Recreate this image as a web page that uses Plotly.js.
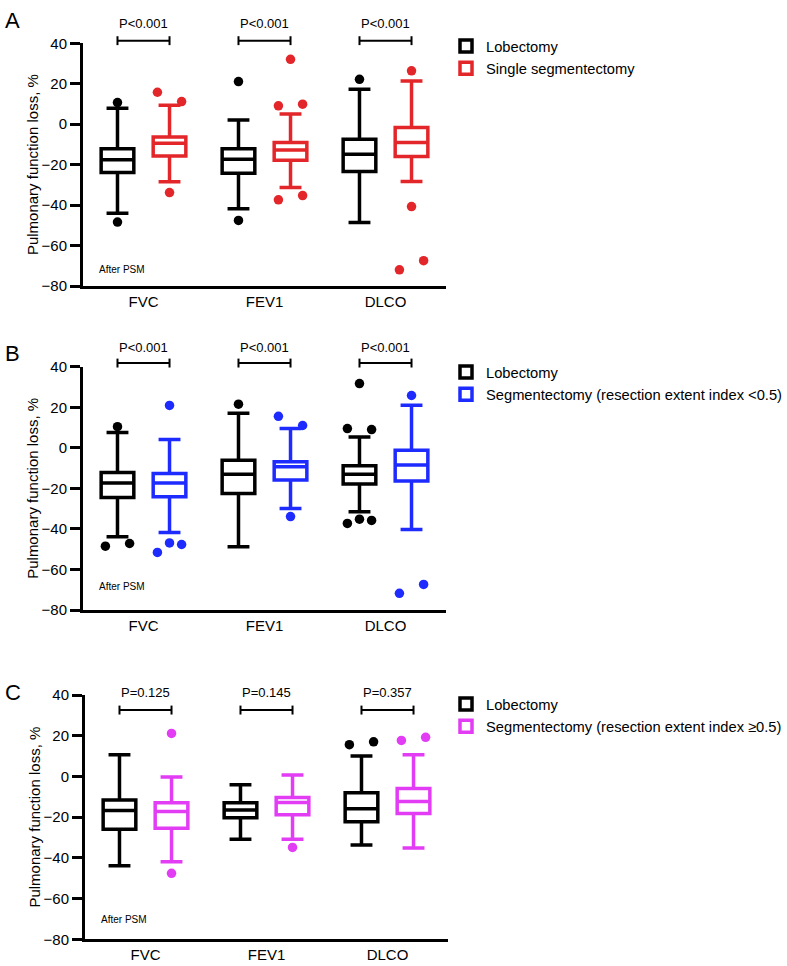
<!DOCTYPE html>
<html lang="en">
<head>
    <meta charset="UTF-8">
    <title>Pulmonary function loss after PSM</title>
    <script src="https://cdn.plot.ly/plotly-3.0.1.min.js"></script>
    <style>
        body, html {
            margin: 0;
            padding: 0;
            background: #fff;
        }
        #chart {
            width: 787px;
            height: 966px;
        }
    </style>
</head>
<body>
    <div id="chart"></div>
    <script>
        // Data
        const categories = ['FVC', 'FEV1', 'DLCO'];
        const yTicks = [-80, -60, -40, -20, 0, 20, 40];

        // Panel A: lobectomy vs single segmentectomy
        const aLobQ1 = [-23.9, -24.2, -23.4];
        const aLobMedian = [-17.6, -17.3, -14.8];
        const aLobQ3 = [-12.2, -12.2, -7.4];
        const aLobLow = [-44.0, -41.8, -48.6];
        const aLobHigh = [7.9, 2.1, 17.3];
        const aLobOutliers = [[10.7, -48.4], [21.1, -47.6], [22.2]];
        const aSegQ1 = [-15.7, -17.8, -16.0];
        const aSegMedian = [-9.4, -12.7, -9.1];
        const aSegQ3 = [-6.3, -9.1, -1.6];
        const aSegLow = [-28.5, -31.3, -28.3];
        const aSegHigh = [9.4, 5.1, 21.4];
        const aSegOutliers = [[15.8, 11.2, -33.8], [32.1, 9.1, 9.9, -37.4, -35.3], [26.4, -40.7, -72.0, -67.5]];
        const aPvalues = ['P<0.001', 'P<0.001', 'P<0.001'];

        // Panel B: lobectomy vs segmentectomy (index <0.5)
        const bLobQ1 = [-24.5, -22.5, -17.8];
        const bLobMedian = [-17.3, -13.0, -13.0];
        const bLobQ3 = [-12.2, -6.2, -8.9];
        const bLobLow = [-43.9, -48.8, -31.6];
        const bLobHigh = [7.6, 17.1, 5.3];
        const bLobOutliers = [[10.4, -48.5, -47.2], [21.5], [31.7, 9.5, 9.0, -37.3, -35.2, -35.8]];
        const bSegQ1 = [-24.2, -15.9, -16.4];
        const bSegMedian = [-17.3, -9.4, -8.5];
        const bSegQ3 = [-12.7, -6.9, -1.2];
        const bSegLow = [-41.8, -29.9, -40.3];
        const bSegHigh = [4.1, 9.5, 21.0];
        const bSegOutliers = [[20.9, -51.6, -46.9, -47.7], [15.5, 11.0, -33.9], [25.8, -71.8, -67.4]];
        const bPvalues = ['P<0.001', 'P<0.001', 'P<0.001'];

        // Panel C: lobectomy vs segmentectomy (index >=0.5)
        const cLobQ1 = [-25.9, -20.3, -22.3];
        const cLobMedian = [-16.7, -16.5, -15.9];
        const cLobQ3 = [-11.6, -12.9, -8.0];
        const cLobLow = [-43.9, -30.9, -33.7];
        const cLobHigh = [10.6, -4.1, 10.0];
        const cLobOutliers = [[], [], [15.6, 17.0]];
        const cSegQ1 = [-25.4, -18.8, -18.2];
        const cSegMedian = [-17.2, -12.8, -12.3];
        const cSegQ3 = [-12.9, -10.3, -5.9];
        const cSegLow = [-41.9, -30.9, -35.2];
        const cSegHigh = [-0.3, 0.7, 10.6];
        const cSegOutliers = [[21.1, -47.6], [-34.9], [17.7, 19.2]];
        const cPvalues = ['P=0.125', 'P=0.145', 'P=0.357'];

        const FONT = 'Liberation Sans, Arial, Helvetica, sans-serif';
        const Y_RANGE = [-80, 40];
        const BOX_OFFSET = 0.215;   // half distance between paired boxes (x units)
        const JITTER = 0.2;         // spread of clustered outliers (x units)

        const panels = [
            {
                letter: 'A', segName: 'Single segmentectomy', color: '#E3262A',
                lob: [aLobQ1, aLobMedian, aLobQ3, aLobLow, aLobHigh, aLobOutliers],
                seg: [aSegQ1, aSegMedian, aSegQ3, aSegLow, aSegHigh, aSegOutliers],
                pvals: aPvalues, bracketY: 41.3, pY: 50, noteY: -71.6,
                xDomain: [83 / 787, 446 / 787], yDomain: [1 - 286 / 966, 1 - 43.3 / 966],
                legendTop: 1 - 30 / 966, letterY: 1 - 21 / 966
            },
            {
                letter: 'B', segName: 'Segmentectomy (resection extent index <0.5)', color: '#1E2BFF',
                lob: [bLobQ1, bLobMedian, bLobQ3, bLobLow, bLobHigh, bLobOutliers],
                seg: [bSegQ1, bSegMedian, bSegQ3, bSegLow, bSegHigh, bSegOutliers],
                pvals: bPvalues, bracketY: 41.8, pY: 49.5, noteY: -68.5,
                xDomain: [83 / 787, 446 / 787], yDomain: [1 - 610 / 966, 1 - 366.7 / 966],
                legendTop: 1 - 356 / 966, letterY: 1 - 353 / 966
            },
            {
                letter: 'C', segName: 'Segmentectomy (resection extent index \u22650.5)', color: '#E23DF5',
                lob: [cLobQ1, cLobMedian, cLobQ3, cLobLow, cLobHigh, cLobOutliers],
                seg: [cSegQ1, cSegMedian, cSegQ3, cSegLow, cSegHigh, cSegOutliers],
                pvals: cPvalues, bracketY: 32.6, pY: 41, noteY: -70.5,
                xDomain: [85 / 787, 448 / 787], yDomain: [1 - 939.3 / 966, 1 - 695 / 966],
                legendTop: 1 - 688 / 966, letterY: 1 - 692 / 966
            }
        ];

        // spread outliers that sit close together, like the prism scatter
        function jitterOutliers(values) {
            const offsets = new Array(values.length).fill(0);
            let i = 0;
            while (i < values.length) {
                let j = i + 1;
                while (j < values.length && Math.abs(values[j] - values[i]) < 6) j++;
                const n = j - i;
                for (let k = 0; k < n; k++) {
                    offsets[i + k] = n > 1 ? -JITTER / 2 + k * JITTER / (n - 1) : 0;
                }
                i = j;
            }
            return offsets;
        }

        // value on the y axis -> fraction of the axis domain (lets marks sit above the range)
        const toDomain = v => (v - Y_RANGE[0]) / (Y_RANGE[1] - Y_RANGE[0]);

        const traces = [];
        const shapes = [];
        const annotations = [];
        const layout = {
            width: 787,
            height: 966,
            margin: { t: 0, r: 0, b: 0, l: 0, autoexpand: false },
            paper_bgcolor: '#fff',
            plot_bgcolor: '#fff',
            font: { family: FONT, color: '#000', size: 15 },
            hovermode: false,
            showlegend: true
        };

        panels.forEach((p, pi) => {
            const n = pi === 0 ? '' : String(pi + 1);
            const xa = 'x' + n, ya = 'y' + n;
            const legendId = 'legend' + n;

            [['Lobectomy', '#000', p.lob, -BOX_OFFSET], [p.segName, p.color, p.seg, BOX_OFFSET]].forEach(([name, color, s, off]) => {
                const xs = categories.map((_, g) => g + off);
                traces.push({
                    type: 'box',
                    name: name,
                    x: xs,
                    q1: s[0], median: s[1], q3: s[2],
                    lowerfence: s[3], upperfence: s[4],
                    boxpoints: false,
                    width: 0.27,
                    whiskerwidth: 0.67,
                    fillcolor: '#fff',
                    line: { color: color, width: 3.5 },
                    xaxis: xa, yaxis: ya,
                    legend: legendId,
                    showlegend: true
                });
                const ox = [], oy = [];
                s[5].forEach((vals, g) => {
                    const jit = jitterOutliers(vals);
                    vals.forEach((v, k) => { ox.push(g + off + jit[k]); oy.push(v); });
                });
                traces.push({
                    type: 'scatter',
                    mode: 'markers',
                    x: ox, y: oy,
                    marker: { color: color, size: 9.5 },
                    cliponaxis: false,
                    xaxis: xa, yaxis: ya,
                    showlegend: false
                });
            });

            layout['xaxis' + n] = {
                domain: p.xDomain,
                anchor: ya,
                range: [-0.5, 2.5],
                tickvals: [0, 1, 2],
                ticktext: categories,
                ticks: '',
                ticklabelstandoff: 0,
                showline: true, linewidth: 3, linecolor: '#000',
                showgrid: false, zeroline: false,
                tickfont: { size: 15 },
                fixedrange: true
            };
            layout['yaxis' + n] = {
                domain: p.yDomain,
                anchor: xa,
                range: Y_RANGE,
                tickvals: yTicks,
                ticks: 'outside', ticklen: 10, tickwidth: 3, tickcolor: '#000',
                showline: true, linewidth: 3, linecolor: '#000',
                showgrid: false, zeroline: false,
                tickfont: { size: 15 },
                title: { text: 'Pulmonary function loss, %', font: { size: 15 }, standoff: 0 },
                fixedrange: true
            };
            layout[legendId] = {
                x: 446 / 787, xanchor: 'left',
                y: p.legendTop, yanchor: 'top',
                font: { size: 14.7 },
                bgcolor: 'rgba(0,0,0,0)',
                tracegroupgap: 0,
                itemwidth: 30
            };

            // significance brackets
            const yd = ya + ' domain';
            const by = toDomain(p.bracketY), tick = 2.2 / (Y_RANGE[1] - Y_RANGE[0]);
            categories.forEach((c, g) => {
                const x0 = g - BOX_OFFSET, x1 = g + BOX_OFFSET;
                const lineStyle = { color: '#000', width: 2 };
                shapes.push({ type: 'line', xref: xa, yref: yd, x0: x0, x1: x1, y0: by, y1: by, line: lineStyle });
                shapes.push({ type: 'line', xref: xa, yref: yd, x0: x0, x1: x0, y0: by - tick, y1: by + tick, line: lineStyle });
                shapes.push({ type: 'line', xref: xa, yref: yd, x0: x1, x1: x1, y0: by - tick, y1: by + tick, line: lineStyle });
                annotations.push({
                    xref: xa, yref: yd, x: g, y: toDomain(p.pY),
                    text: p.pvals[g], showarrow: false,
                    font: { size: 13 }, yanchor: 'middle'
                });
            });

            annotations.push({
                xref: xa + ' domain', yref: yd, x: 0.039, y: toDomain(p.noteY),
                text: 'After PSM', showarrow: false, xanchor: 'left', yanchor: 'middle',
                font: { size: 10 }
            });
            annotations.push({
                xref: 'paper', yref: 'paper', x: 3 / 787, y: p.letterY,
                text: p.letter, showarrow: false, xanchor: 'left', yanchor: 'middle',
                font: { size: 22 }
            });
        });

        layout.shapes = shapes;
        layout.annotations = annotations;

        Plotly.newPlot('chart', traces, layout, { displayModeBar: false, staticPlot: true });
    </script>
</body>
</html>
